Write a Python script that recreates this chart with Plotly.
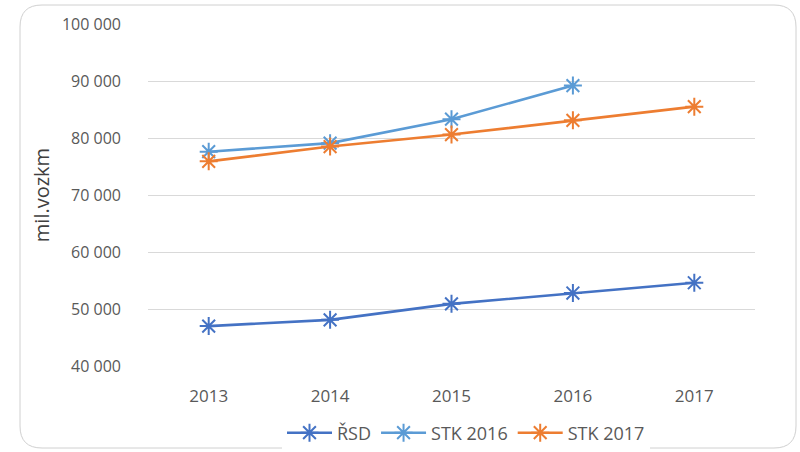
import plotly.graph_objects as go

# Vehicle-kilometre estimates by source
years = ["2013", "2014", "2015", "2016", "2017"]
rsd = [47000, 48100, 50900, 52800, 54600]
stk_2016 = [77600, 79100, 83300, 89200]
stk_2017 = [75900, 78500, 80600, 83100, 85500]
y_ticks = [40000, 50000, 60000, 70000, 80000, 90000, 100000]
y_tick_labels = ["40 000", "50 000", "60 000", "70 000", "80 000", "90 000", "100 000"]

W, H = 800, 452
L, R, T, B = 148, 45, 24, 86
pw, ph = W - L - R, H - T - B

def px(x):
    return (x - L) / pw

def py(y):
    return (H - B - y) / ph

font = "Open Sans, Liberation Sans, sans-serif"
grey = "#595959"

def series(name, ys, color):
    return go.Scatter(
        x=years[:len(ys)], y=ys, name=name, mode="lines+markers",
        line=dict(color=color, width=2.6),
        marker=dict(symbol="asterisk-open", size=15, color=color,
                    line=dict(color=color, width=2)),
    )

fig = go.Figure([
    series("ŘSD", rsd, "#4472C4"),
    series("STK 2016", stk_2016, "#5B9BD5"),
    series("STK 2017", stk_2017, "#ED7D31"),
])

# rounded chart-area frame
x0, x1, y0, y1, r = 20, 796, 5, 448, 22
path = (
    f"M {px(x0 + r)},{py(y0)} L {px(x1 - r)},{py(y0)} "
    f"Q {px(x1)},{py(y0)} {px(x1)},{py(y0 + r)} "
    f"L {px(x1)},{py(y1 - r)} Q {px(x1)},{py(y1)} {px(x1 - r)},{py(y1)} "
    f"L {px(x0 + r)},{py(y1)} Q {px(x0)},{py(y1)} {px(x0)},{py(y1 - r)} "
    f"L {px(x0)},{py(y0 + r)} Q {px(x0)},{py(y0)} {px(x0 + r)},{py(y0)} Z"
)

fig.update_layout(
    width=W, height=H,
    margin=dict(l=L, r=R, t=T, b=B, autoexpand=False),
    paper_bgcolor="white", plot_bgcolor="white",
    font=dict(family=font, size=16, color=grey),
    shapes=[dict(type="path", path=path, xref="paper", yref="paper",
                 line=dict(color="#d0d0d0", width=1), layer="below")],
    legend=dict(orientation="h", x=px(466), xanchor="center",
                y=py(433), yanchor="middle", font=dict(size=18, color=grey),
                itemwidth=45, tracegroupgap=0),
    xaxis=dict(type="category", range=[-0.5, 4.5], showgrid=False,
               showline=False, ticks="", tickfont=dict(size=17, color=grey),
               ticklabelstandoff=18),
    yaxis=dict(range=[40000, 100000], tickvals=y_ticks, ticktext=y_tick_labels,
               showgrid=True, gridcolor="#d9d9d9", gridwidth=1, zeroline=False,
               showline=False, ticks="", tickfont=dict(size=16, color=grey),
               ticklabelstandoff=26,
               title=dict(text="mil.vozkm", font=dict(size=20, color="#404040"),
                          standoff=6)),
)

fig.write_html("out.html")
